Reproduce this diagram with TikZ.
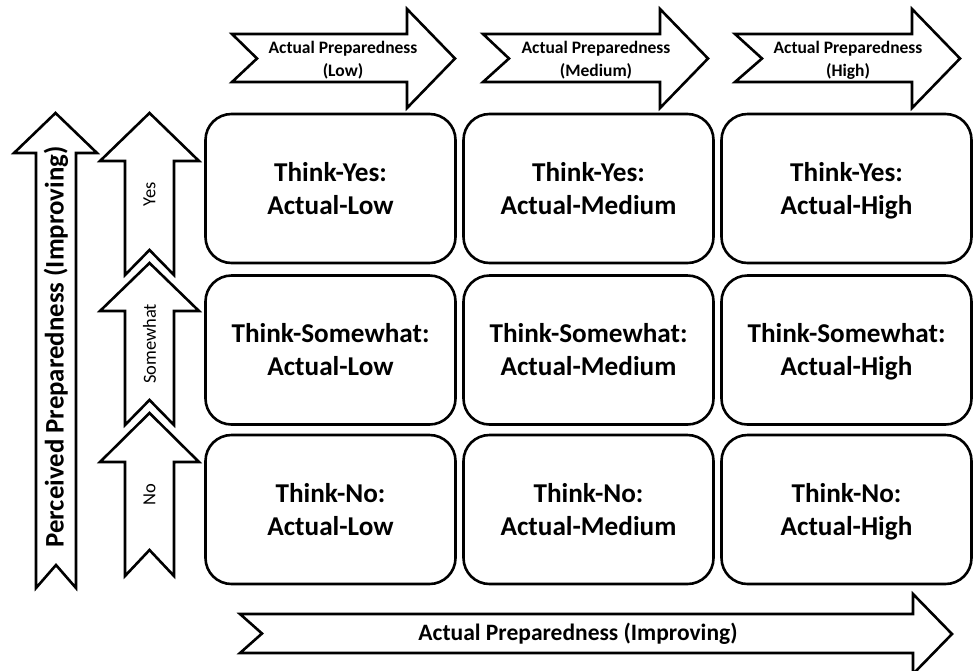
\documentclass[tikz,border=0pt]{standalone}
\usepackage{fontspec}
\setmainfont{Carlito}
\newcommand{\twoline}[2]{\strut#1\\\strut#2}
\newcommand{\cellstrut}{\rule[-5pt]{0pt}{28pt}}
\newcommand{\celltext}[2]{\cellstrut#1\\\cellstrut#2}
\begin{document}
\begin{tikzpicture}[x=1pt,y=-1pt,
  cell/.style={draw=black, line width=2.6pt, rounded corners=26pt, minimum width=250pt, minimum height=149pt,
    align=center, font=\bfseries\fontsize{27.2}{33}\selectfont, fill=white},
  arrowshape/.style={draw=black, line width=2.6pt, fill=white, line join=miter},
  toplabel/.style={align=center, font=\bfseries\fontsize{17.5}{23}\selectfont},
  sidelabel/.style={rotate=90, font=\fontsize{18.5}{20}\selectfont},
  biglabel/.style={font=\bfseries\fontsize{26.8}{30}\selectfont}]
\useasboundingbox (0,0) rectangle (973,670);

% top arrows
\foreach \t/\n/\b/\p in {232/257/407/455, 483/509/660/708, 735/762/912/960}{
  \draw[arrowshape] (\t,34) -- (\b,34) -- (\b,9) -- (\p,58.5) -- (\b,108) -- (\b,82) -- (\t,82) -- (\n,58.5) -- cycle;
}
\node[toplabel] (tLow) at (343,60) {\twoline{Actual Preparedness}{(Low)}};
\node[toplabel] (tMed) at (596,60) {\twoline{Actual Preparedness}{(Medium)}};
\node[toplabel] (tHigh) at (848,60) {\twoline{Actual Preparedness}{(High)}};

% big left arrow
\draw[arrowshape] (36,588) -- (36,153) -- (14,153) -- (55.5,113) -- (97,153) -- (76,153) -- (76,588) -- (56,565) -- cycle;
\node[biglabel, rotate=90] (perc) at (56,347) {Perceived Preparedness (Improving)};

% small left arrows
\foreach \tp/\bs/\bt/\nt in {113/161/275/250, 263/311/425/400, 413/462/576/550}{
  \draw[arrowshape] (125,\bt) -- (125,\bs) -- (100,\bs) -- (149.5,\tp) -- (199,\bs) -- (174,\bs) -- (174,\bt) -- (149.5,\nt) -- cycle;
}
\node[sidelabel] (sYes) at (149.5,194) {Yes};
\node[sidelabel] (sSome) at (149.5,344) {Somewhat};
\node[sidelabel] (sNo) at (149.5,494.5) {No};

% bottom arrow
\draw[arrowshape] (240,614) -- (913,614) -- (913,594) -- (952,634) -- (913,674) -- (913,653) -- (240,653) -- (262,633.5) -- cycle;
\node[font=\bfseries\fontsize{23.5}{28}\selectfont] (bottom) at (578,634) {Actual Preparedness (Improving)};

% grid cells
\node[cell] (c11) at (330.5,188.5) {\celltext{Think-Yes:}{Actual-Low}};
\node[cell] (c12) at (588.5,188.5) {\celltext{Think-Yes:}{Actual-Medium}};
\node[cell] (c13) at (846.5,188.5) {\celltext{Think-Yes:}{Actual-High}};
\node[cell] (c21) at (330.5,350) {\celltext{Think-Somewhat:}{Actual-Low}};
\node[cell] (c22) at (588.5,350) {\celltext{Think-Somewhat:}{Actual-Medium}};
\node[cell] (c23) at (846.5,350) {\celltext{Think-Somewhat:}{Actual-High}};
\node[cell] (c31) at (330.5,509.5) {\celltext{Think-No:}{Actual-Low}};
\node[cell] (c32) at (588.5,509.5) {\celltext{Think-No:}{Actual-Medium}};
\node[cell] (c33) at (846.5,509.5) {\celltext{Think-No:}{Actual-High}};
\end{tikzpicture}
\end{document}
